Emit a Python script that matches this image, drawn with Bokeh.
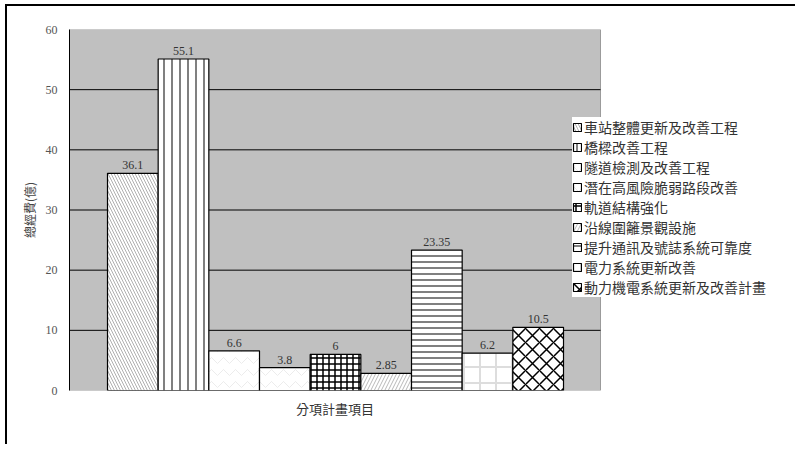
from bokeh.plotting import figure
from bokeh.models import (ColumnDataSource, Legend, LegendItem, FixedTicker, Range1d,
                          BoxAnnotation, Title)
from bokeh.embed import file_html
from bokeh.resources import INLINE
from bokeh.core.properties import value

categories = ["車站整體更新及改善工程", "橋樑改善工程", "隧道檢測及改善工程",
              "潛在高風險脆弱路段改善", "軌道結構強化", "沿線圍籬景觀設施",
              "提升通訊及號誌系統可靠度", "電力系統更新改善", "動力機電系統更新及改善計畫"]
values = [36.1, 55.1, 6.6, 3.8, 6, 2.85, 23.35, 6.2, 10.5]
value_labels = ["36.1", "55.1", "6.6", "3.8", "6", "2.85", "23.35", "6.2", "10.5"]
y_ticks = [0, 10, 20, 30, 40, 50, 60]
x_title = "分項計畫項目"
y_title = "總經費(億)"

# hatch styles per series: (pattern, color, scale, weight)
styles = [
    ("\\", "#b0b0b0", 6, 1),
    ("|", "#808080", 8, 2),
    ("v", "#ececec", 12, 1),
    ("v", "#ececec", 12, 1),
    ("+", "#000000", 6, 1.5),
    ("/", "#b8b8b8", 7, 1),
    ("-", "#808080", 6, 2),
    ("+", "#dddddd", 16, 2),
    ("x", "#000000", 14, 1.5),
]

# layout (pixels)
W, H = 790, 440
B_LEFT, B_RIGHT, B_TOP, B_BOTTOM = 62, 5, 23, 56
AREA_PX = 531                      # width of the grey plot area in pixels
FRAME_PX = W - B_LEFT - B_RIGHT    # width of the whole frame
area_left, area_right = -1.25, 9.23
px_per_unit = AREA_PX / (area_right - area_left)
x_end = area_left + FRAME_PX / px_per_unit

p = figure(width=W, height=H, output_backend="svg", toolbar_location=None,
           x_range=Range1d(area_left, x_end), y_range=Range1d(0, 60),
           min_border_left=B_LEFT, min_border_right=B_RIGHT, min_border_top=B_TOP,
           min_border_bottom=B_BOTTOM)
p.styles = {"border-top": "2px solid black", "border-left": "2px solid black",
            "margin-left": "5px", "margin-top": "4px"}
p.background_fill_color = "white"
p.border_fill_color = "white"
p.outline_line_color = None

area = BoxAnnotation(left=area_left, right=area_right, bottom=0, top=60,
                     fill_color="#c0c0c0", fill_alpha=1, line_color="black",
                     line_width=1, level="image")
p.add_layout(area)

# horizontal grid lines limited to the grey plot area
inner_ticks = y_ticks[1:-1]
grid_src = ColumnDataSource(dict(y=inner_ticks, x0=[area_left] * len(inner_ticks),
                                 x1=[area_right] * len(inner_ticks)))
p.segment(x0="x0", y0="y", x1="x1", y1="y", source=grid_src, line_color="black",
          line_width=1, level="underlay")

items = []
for i, (cat, v) in enumerate(zip(categories, values)):
    pat, col, sc, wt = styles[i]
    src = ColumnDataSource(dict(x=[i], top=[v]))
    r = p.vbar(x="x", top="top", bottom=0, width=1.0, source=src,
               fill_color="white", line_color="black", line_width=1.2,
               hatch_pattern=pat, hatch_color=col, hatch_scale=sc, hatch_weight=wt)
    items.append(LegendItem(label=cat, renderers=[r]))

lab_src = ColumnDataSource(dict(x=list(range(len(values))), y=values, t=value_labels))
p.text(x="x", y="y", text="t", source=lab_src, text_align="center", text_baseline="bottom",
       y_offset=-4, text_font=value("Liberation Serif"), text_font_size="12px",
       text_color="#333333")

legend = Legend(items=items, location=(503, 93))
legend.background_fill_color = "white"
legend.background_fill_alpha = 1
legend.border_line_color = None
legend.label_text_font = "Noto Sans CJK TC"
legend.label_text_font_size = "14px"
legend.label_text_color = "#333333"
legend.glyph_width = 10
legend.glyph_height = 10
legend.label_height = 15
legend.label_standoff = 2
legend.spacing = 0
legend.padding = 5
legend.margin = 0
p.add_layout(legend, "center")

p.xgrid.grid_line_color = None
p.ygrid.grid_line_color = None

p.yaxis.ticker = FixedTicker(ticks=y_ticks)
p.yaxis.major_tick_line_color = None
p.yaxis.minor_tick_line_color = None
p.yaxis.major_tick_out = 0
p.yaxis.major_tick_in = 0
p.yaxis.axis_line_color = "black"
p.yaxis.major_label_text_font = "Liberation Serif"
p.yaxis.major_label_text_font_size = "12px"
p.yaxis.major_label_text_color = "#555555"
p.yaxis.major_label_standoff = 12
p.yaxis.axis_label = y_title
p.yaxis.axis_label_text_font = "Noto Sans CJK TC"
p.yaxis.axis_label_text_font_size = "12px"
p.yaxis.axis_label_text_font_style = "normal"
p.yaxis.axis_label_text_color = "#444444"
p.yaxis.axis_label_standoff = 5

p.xaxis.visible = False

title_w = 13 * len(x_title)
xt = Title(text=x_title, align="left", offset=(AREA_PX - title_w) / 2,
           text_font="Noto Sans CJK TC", text_font_size="13px",
           text_font_style="normal", text_color="#333333", standoff=12)
p.add_layout(xt, "below")

open("out.html", "w").write(file_html(p, INLINE))
